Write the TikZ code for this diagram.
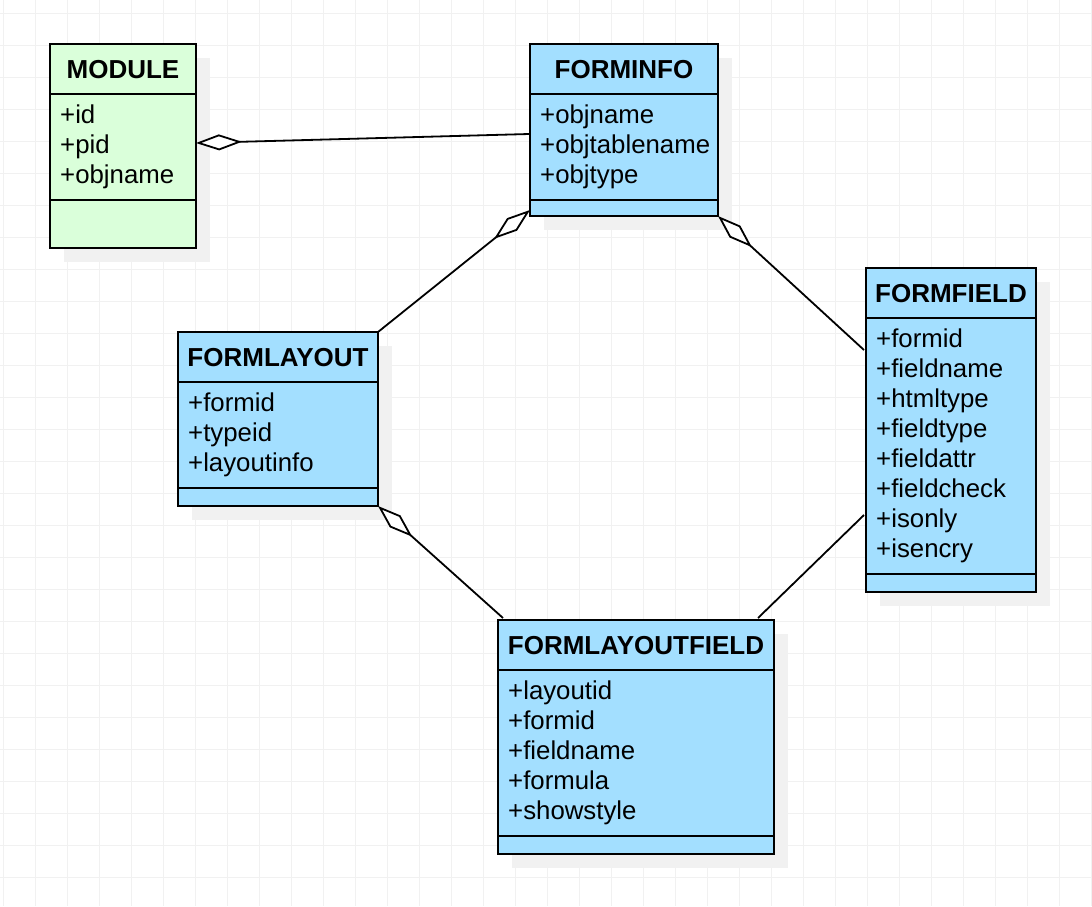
\documentclass[tikz,border=0pt]{standalone}
\usepackage{fontspec}
\setmainfont{Liberation Sans}
\usetikzlibrary{arrows.meta,calc}
\definecolor{gridc}{RGB}{241,241,241}
\definecolor{shadowc}{RGB}{241,241,241}
\definecolor{bluec}{RGB}{163,223,255}
\definecolor{greenc}{RGB}{218,255,218}
\newcommand{\umlclass}[9]{%
  \fill[shadowc] (#2+14,#3+14) rectangle ++(#4,#5);
  \node[box, fill=#7, minimum width=#4pt, minimum height=#5pt] (#1) at (#2,#3) {};
  \draw[line width=2pt] ($(#1.north west)+(0,50)$) -- ($(#1.north east)+(0,50)$);
  \draw[line width=2pt] ($(#1.north west)+(0,#6)$) -- ($(#1.north east)+(0,#6)$);
  \node[hdr] (#1-title) at ($(#1.north)+(0,25.5)$) {#8};
  \foreach \attrname [count=\i] in {#9}
    \node[attr] (#1-a\i) at ($(#1.north west)+(10,{79+30*(\i-1)})$) {\attrname};
}
\begin{document}
\begin{tikzpicture}[x=1pt,y=-1pt,
  box/.style={draw=black, line width=2pt, anchor=north west, inner sep=0pt, outer sep=0pt},
  hdr/.style={font=\bfseries\fontsize{26}{30}\selectfont, inner sep=0pt},
  attr/.style={font=\fontsize{25.8}{30}\selectfont, anchor=base west, inner sep=0pt},
  agg/.style={line width=1.8pt, -{Diamond[fill=white, length=46pt, width=16pt, line width=1.8pt]}},
  link/.style={line width=1.8pt}]
\useasboundingbox (0,0) rectangle (1092,906);
\fill[white] (0,0) rectangle (1092,906);
\foreach \x in {3,35,...,1091} \draw[gridc, line width=1pt] (\x,0) -- (\x,906);
\foreach \y in {13,45,...,877} \draw[gridc, line width=1pt] (0,\y) -- (1092,\y);

\umlclass{module}{50}{44}{146}{204}{156}{greenc}{MODULE}{+id,+pid,+objname}
\umlclass{forminfo}{530}{44}{188}{172}{156}{bluec}{FORMINFO}{+objname,+objtablename,+objtype}
\umlclass{formfield}{866}{268}{170}{324}{306}{bluec}{FORMFIELD}{+formid,+fieldname,+htmltype,+fieldtype,+fieldattr,+fieldcheck,+isonly,+isencry}
\umlclass{formlayout}{178}{332}{200}{174}{156}{bluec}{FORMLAYOUT}{+formid,+typeid,+layoutinfo}
\umlclass{formlayoutfield}{498}{620}{276}{234}{216}{bluec}{FORMLAYOUTFIELD}{+layoutid,+formid,+fieldname,+formula,+showstyle}

\draw[agg] ($(forminfo.north west)+(-1,90)$) -- ($(module.north east)+(0,99)$);
\draw[agg] (formlayout.north east) -- ($(forminfo.south west)+(0,-6)$);
\draw[agg] ($(formfield.north west)+(-2,82)$) -- (forminfo.south east);
\draw[agg] ($(formlayoutfield.north west)+(5,-2)$) -- (formlayout.south east);
\draw[link] ($(formfield.north west)+(-2,247)$) -- ($(formlayoutfield.north east)+(-16,-2)$);
\end{tikzpicture}
\end{document}
